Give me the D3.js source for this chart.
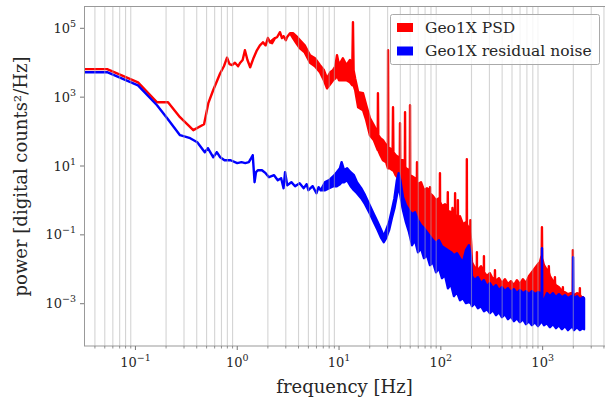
<!DOCTYPE html>
<html><head><meta charset="utf-8">
<script src="https://cdn.jsdelivr.net/npm/d3@7"></script>
<style>body{margin:0;background:#fff} svg{display:block} text{font-family:"DejaVu Serif",serif}</style>
</head><body><svg id="c" width="605" height="400"></svg>
<script>
// [frequency Hz, lower envelope, upper envelope] in digital counts^2/Hz
const redPSD = [
[0.0313,6.5e3,6.5e3],[0.0527,6.5e3,6.5e3],[0.106,2.7e3,2.7e3],[0.163,713,713],[0.209,713,713],
[0.274,261,261],[0.37,110,110],[0.472,164,164],[0.52,667,667],[0.58,1590,1590],[0.68,4960,4960],
[0.74,7900,7900],[0.794,1.4e4,1.4e4],[0.84,9100,9100],[0.89,8500,8500],[0.95,1.0e4,1.0e4],
[1.02,7900,7900],[1.07,1.0e4,1.0e4],[1.13,1.2e4,1.2e4],[1.19,2.3e4,2.3e4],[1.26,1.2e4,1.2e4],
[1.34,7400,7400],[1.45,1.4e4,1.4e4],[1.56,2.3e4,2.3e4],[1.67,3.2e4,3.2e4],[1.79,3.9e4,3.9e4],
[1.9,3.2e4,3.2e4],[2.0,5.2e4,5.2e4],[2.1,3.9e4,3.9e4],[2.2,3.7e4,4.5e4],[2.35,5.2e4,5.2e4],
[2.46,5.5e4,5.5e4],[2.63,7.7e4,7.7e4],[2.75,5.2e4,5.2e4],[2.85,5.9e4,5.9e4],[3.0,4.5e4,4.5e4],
[3.08,5.5e4,5.5e4],[3.3,7.2e4,7.2e4],[3.53,5.2e4,7.2e4],[3.8,3.7e4,5.9e4],[4.14,2.6e4,4.5e4],
[4.6,2.0e4,3.2e4],[5.19,1.0e4,1.65e4],[5.8,7900,1.35e4],[6.5,5300,8500],[7.1,3100,6100],
[7.62,1800,3500],[8.2,2400,5300],[8.73,3100,6100],[9.2,3500,7900],[9.55,4300,1.65e4],
[10.0,3100,8500],[10.9,3100,1.35e4],[11.8,3100,8500],[12.8,2700,1.2e4],[13.5,2200,7900],
[13.7,2200,1.5e5],[13.9,2200,6100],[14.4,1600,3500],[15.4,510,1400],[17.2,418,1300],
[18.5,214,583],[20.1,78.5,245],[22,56.1,153],[24.0,28.8,89.7],[24.1,28.8,1300],[24.3,28.8,78.5],
[25.5,20.6,64.2],[27,14.7,56.1],[29,12.9,40.2],[30.2,8.63,28.8],[30.3,8.63,2.3e4],[30.5,8.63,32.9],
[31.5,8.63,32.9],[33.6,7.55,28.8],[33.9,7.55,510],[34.2,7.55,25.2],[36,5.41,20.6],[39.5,3.87,16.9],
[39.7,3.87,175],[39.9,3.87,14.7],
[42.5,0.6,14.7],[44.3,0.4,10.5],[44.5,0.4,366],[44.7,0.4,9.5],[45.4,0.35,8.63],[48.7,0.25,7.55],
[49.6,0.22,6.0],[49.8,0.22,583],[50,0.22,5.41],[52.1,0.2,5.06],[55.7,0.2,4.43],[58.1,0.15,3.5],
[58.3,0.15,12.9],[58.5,0.15,3.39],[59.6,0.13,2.96],[63.8,0.09,3.39],[68.3,0.075,1.98],[73.1,0.055,2.27],
[78,0.045,1.8],[78.2,0.045,2.42],[78.4,0.045,1.6],[83.7,0.035,1.33],[89.6,0.028,1.02],[95.8,0.03,1.16],
[97.7,0.025,1.0],[98,0.025,6.18],[98.3,0.025,0.9],[102.6,0.022,0.68],[109.8,0.02,0.778],[116.6,0.017,0.6],
[117,0.017,1.73],[117.4,0.017,0.5],[125.7,0.015,0.455],[129.6,0.015,0.42],[130,0.015,0.6],[130.4,0.015,0.42],
[134.5,0.012,0.52],[137.6,0.012,0.4],[138,0.012,1.62],[138.4,0.012,0.38],[143.9,0.014,0.305],
[146.5,0.012,0.3],[147,0.012,1.02],[147.5,0.012,0.3],[154,0.01,0.348],[164.8,0.008,0.204],
[176.4,0.015,0.233],[179.4,0.015,0.22],[180,0.015,15.8],[180.6,0.015,0.2],[188.8,0.02,0.156],
[194.5,0.012,0.15],[195,0.012,0.267],[195.5,0.012,0.12],[199,0.005,0.05],
[202,0.00127,0.0161],[216,0.00127,0.0108],[225.5,0.00127,0.0108],[226,0.00127,0.0314],[226.5,0.00127,0.0094],
[231,0.00127,0.0094],[248,0.00127,0.0123],[264.5,0.00127,0.0077],[265,0.00127,0.024],[265.5,0.00127,0.0082],
[284,0.00127,0.0063],[303,0.00127,0.0077],[325,0.00127,0.00515],[339,0.00127,0.0058],[340,0.00127,0.0094],
[341,0.00127,0.0055],[348,0.00127,0.00451],[372,0.00127,0.0055],[398,0.00127,0.00395],[426,0.00127,0.00515],
[456,0.00127,0.00369],[488,0.00127,0.00451],[522,0.00127,0.00345],[559,0.00127,0.00482],[598,0.00127,0.00369],
[640,0.00127,0.00515],[685,0.00127,0.00395],[733,0.00127,0.0063],[785,0.00127,0.00824],[840,0.00127,0.0108],
[899,0.00127,0.0141],[940,0.00127,0.0161],[962,0.00127,0.021],[978,0.00127,0.0257],[984,0.00127,0.167],
[990,0.00127,0.021],[1010,0.00127,0.0161],[1030,0.00127,0.0131],[1102,0.00127,0.0094],[1145,0.00127,0.0085],
[1150,0.00127,0.0123],[1155,0.00127,0.008],[1179,0.00127,0.0063],[1262,0.00127,0.00451],[1315,0.00127,0.0042],
[1320,0.00127,0.0059],[1325,0.00127,0.0038],[1350,0.00127,0.00345],[1445,0.00127,0.00302],[1546,0.00127,0.00231],
[1575,0.00127,0.0022],[1580,0.00127,0.00302],[1585,0.00127,0.0021],[1655,0.00127,0.00216],[1771,0.00127,0.00189],
[1895,0.00127,0.00202],[1975,0.00127,0.0019],[1980,0.00127,0.0359],[1985,0.00127,0.0019],[2028,0.00127,0.00177],
[2171,0.00127,0.00202],[2315,0.00127,0.0019],[2320,0.00127,0.00282],[2325,0.00127,0.0018],[2400,0.00127,0.00155],
[2486,0.00127,0.00155],[2540,0.00127,0.00135]
];
const blueResidual = [
[0.0313,5300,5300],[0.0527,5300,5300],[0.106,2200,2200],[0.163,583,583],[0.205,245,245],
[0.274,78.5,78.5],[0.345,64.2,64.2],[0.405,49.1,49.1],[0.48,25.2,25.2],[0.515,32.9,32.9],
[0.58,18,18],[0.63,25.2,25.2],[0.68,18,18],[0.75,14.7,14.7],[0.86,14.7,14.7],[1.0,12.1,12.1],
[1.1,12.9,12.9],[1.2,12.1,12.1],[1.3,12.9,12.9],[1.37,16.9,16.9],[1.42,20.6,20.6],[1.48,3.39,3.39],
[1.53,6.61,6.61],[1.6,7.55,7.55],[1.75,7.55,7.55],[1.9,6.18,6.18],[2.05,4.73,4.73],[2.3,5.41,5.41],
[2.5,3.87,3.87],[2.7,4.43,4.43],[2.85,2.27,2.27],[2.95,6.61,6.61],[3.1,2.77,2.77],[3.4,3.39,3.39],
[3.7,2.59,2.59],[4.1,3.17,3.17],[4.5,2.27,2.27],[4.8,2.96,2.96],[5.0,1.98,1.98],[5.5,2.59,2.59],
[6.0,1.62,1.62],[6.3,2.42,2.42],[6.6,1.98,1.98],[7.3,1.98,3.39],[8.0,2.27,3.87],[8.8,2.59,5.06],
[9.5,2.59,6.61],[10.2,2.96,8.63],[10.6,3.39,12.9],[11.2,3.39,7.55],[12.0,3.87,8.63],[13.0,2.59,6.61],
[14.0,1.98,5.41],[15.0,1.62,3.39],[16.5,1.16,2.27],[18.0,0.778,1.42],[20.0,0.426,0.727],
[22.0,0.233,0.398],[24.0,0.137,0.233],[26.0,0.08,0.137],[27.5,0.0612,0.0914],[29.0,0.08,0.137],
[31.0,0.137,0.233],[33.0,0.305,0.52],[35.0,0.594,1.16],[37.0,1.42,3.87],[38.5,2.77,6.18],
[40.0,1.42,3.87],
[42.5,0.52,1.24],[45.4,0.233,0.727],[48.7,0.119,0.52],[52.1,0.0501,0.398],[55.7,0.07,0.455],
[59.6,0.0314,0.267],[63.8,0.041,0.191],[68.3,0.021,0.156],[73.1,0.0257,0.119],[78.2,0.0131,0.0914],
[83.7,0.0161,0.07],[89.6,0.00824,0.0573],[95.8,0.0108,0.07],[102.6,0.0055,0.0469],[109.8,0.00674,0.041],
[117.4,0.00282,0.0359],[125.7,0.00369,0.0314],[134.5,0.00166,0.0257],[143.9,0.00216,0.0294],
[154,0.00127,0.021],[164.8,0.00145,0.0161],[176.4,0.00104,0.0359],[188.8,0.00111,0.0501],[197,0.00104,0.0257],
[202,0.000848,0.0063],[216,0.00104,0.00482],[231,0.000741,0.0059],[248,0.000848,0.00395],[265,0.000606,0.00482],
[284,0.000693,0.00323],[303,0.000531,0.00395],[325,0.00065,0.00282],[348,0.000464,0.00345],[372,0.00057,0.00247],
[398,0.000406,0.00302],[426,0.0005,0.00231],[456,0.000356,0.00282],[488,0.00043,0.00216],[522,0.000311,0.00264],
[559,0.00038,0.00202],[598,0.00029,0.00247],[640,0.000356,0.00202],[685,0.000255,0.00231],[733,0.000311,0.00189],
[785,0.000238,0.00231],[840,0.00029,0.00189],[899,0.000223,0.00216],[962,0.00029,0.00202],[978,0.00029,0.00202],
[985,0.00029,0.041],[992,0.00029,0.00127],[1030,0.000238,0.00127],[1102,0.00027,0.00202],[1179,0.000208,0.00166],
[1262,0.000255,0.00202],[1350,0.000195,0.00155],[1445,0.000238,0.00189],[1546,0.000182,0.00155],
[1655,0.000223,0.00177],[1771,0.000171,0.00145],[1895,0.000208,0.00166],[1982,0.000208,0.00166],
[1990,0.000208,0.0225],[1998,0.000208,0.00166],[2028,0.000171,0.00145],[2171,0.000208,0.00166],
[2323,0.000171,0.00135],[2486,0.000195,0.00155],[2550,0.000182,0.00145]
];
const xTicks = [0.1, 1, 10, 100, 1000];
const xTickExp = ["\u22121", "0", "1", "2", "3"];
const yTicks = [1e-3, 1e-1, 1e1, 1e3, 1e5];
const yTickExp = ["\u22123", "\u22121", "1", "3", "5"];
const seriesNames = ["Geo1X PSD", "Geo1X residual noise"];
const seriesColors = ["#ff0000", "#0000ff"];

const svg = d3.select("#c");
const L = 84, R = 605, T = 7, B = 346;
const x = d3.scaleLog().domain([1/32, 4096]).range([L, R]);
const y = d3.scaleLog().domain([Math.pow(10,-4.2286), Math.pow(10,5.6187)]).range([B, T]);

svg.append("defs").append("clipPath").attr("id","clip")
  .append("rect").attr("x",L).attr("y",T).attr("width",R-L).attr("height",B-T);

const plot = svg.append("g").attr("clip-path","url(#clip)");
const area = d3.area().x(d=>x(d[0])).y0(d=>y(d[1])).y1(d=>y(d[2]));
[redPSD, blueResidual].forEach((s,i)=>{
  plot.append("path").datum(s).attr("d",area)
    .attr("fill",seriesColors[i]).attr("stroke",seriesColors[i])
    .attr("stroke-width",2.4).attr("stroke-linejoin","round");
});

// minor grid (vertical)
const minor = [];
for (let d=-2; d<=3; d++) for (let m=2; m<=9; m++) {
  const v = m*Math.pow(10,d);
  if (v > x.domain()[0] && v < x.domain()[1]) minor.push(v);
}
plot.append("g").selectAll("line").data(minor).join("line")
  .attr("x1",d=>x(d)).attr("x2",d=>x(d)).attr("y1",T).attr("y2",B)
  .attr("stroke","rgb(176,176,176)").attr("stroke-opacity",0.55).attr("stroke-width",1.1);

// spines
svg.append("rect").attr("x",L+0.5).attr("y",T-0.5).attr("width",R-L).attr("height",B-T+0.5)
  .attr("fill","none").attr("stroke","#999").attr("stroke-width",1);

// x ticks
const gx = svg.append("g");
gx.selectAll("line.maj").data(xTicks).join("line").attr("class","maj")
  .attr("x1",d=>x(d)).attr("x2",d=>x(d)).attr("y1",B).attr("y2",B+4)
  .attr("stroke","#777").attr("stroke-width",1);
gx.selectAll("line.min").data(minor).join("line").attr("class","min")
  .attr("x1",d=>x(d)).attr("x2",d=>x(d)).attr("y1",B).attr("y2",B+2.5)
  .attr("stroke","#777").attr("stroke-width",0.8);
xTicks.forEach((t,i)=>{
  const tx = gx.append("text").attr("x",x(t)).attr("y",B+21).attr("text-anchor","middle")
    .attr("font-size",13).attr("fill","#262626");
  tx.append("tspan").text("10");
  tx.append("tspan").attr("dy",-6).attr("font-size",9.5).text(xTickExp[i]);
});
// y ticks
const gy = svg.append("g");
gy.selectAll("line").data(yTicks).join("line")
  .attr("x1",L-4).attr("x2",L).attr("y1",d=>y(d)).attr("y2",d=>y(d))
  .attr("stroke","#777").attr("stroke-width",1);
yTicks.forEach((t,i)=>{
  const ty = gy.append("text").attr("x",L-8).attr("y",y(t)+4.5).attr("text-anchor","end")
    .attr("font-size",13).attr("fill","#262626");
  ty.append("tspan").text("10");
  ty.append("tspan").attr("dy",-6).attr("font-size",9.5).text(yTickExp[i]);
});

// axis labels
svg.append("text").attr("x",(L+R)/2).attr("y",393).attr("text-anchor","middle")
  .attr("font-size",18).attr("fill","#262626").text("frequency [Hz]");
svg.append("text").attr("transform",`translate(27,${(T+B)/2}) rotate(-90)`).attr("text-anchor","middle")
  .attr("font-size",18).attr("fill","#262626").text("power [digital counts\u00b2/Hz]");

// legend
const lg = svg.append("g");
lg.append("rect").attr("x",390.5).attr("y",14.5).attr("width",209).attr("height",50).attr("rx",2)
  .attr("fill","#fff").attr("fill-opacity",0.8).attr("stroke","#aaa").attr("stroke-width",1);
seriesNames.forEach((n,i)=>{
  lg.append("rect").attr("x",397).attr("y",23+i*23.5).attr("width",16).attr("height",9)
    .attr("fill",seriesColors[i]);
  lg.append("text").attr("x",425).attr("y",32.5+i*23.5).attr("font-size",15.5)
    .attr("fill","#262626").text(n);
});
</script></body></html>
